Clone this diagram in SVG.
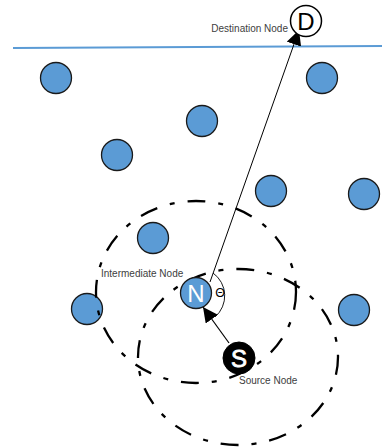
<svg xmlns="http://www.w3.org/2000/svg" width="382" height="447" viewBox="0 0 382 447">
<style>
.node{fill:#5B9BD5;stroke:#1a1a1a;stroke-width:1.3}
.range{fill:none;stroke:#000;stroke-width:2.3;stroke-dasharray:18 13 5 13}
.lbl{font-family:"Liberation Sans",Arial,sans-serif;font-size:10px;fill:#404040}
.big{font-family:"Liberation Sans",Arial,sans-serif;font-size:24px;text-anchor:middle}
</style>
<defs>
<marker id="ah" viewBox="0 0 10 10" refX="10" refY="5" markerWidth="15" markerHeight="15" markerUnits="userSpaceOnUse" orient="auto">
<path d="M0,0 L10,5 L0,10 z" fill="#000"/>
</marker>
</defs>
<rect width="382" height="447" fill="#fff"/>
<line x1="13" y1="48" x2="382" y2="46" stroke="#5B9BD5" stroke-width="2.2"/>
<g id="nodes">
<circle class="node" cx="56" cy="78" r="15.5"/>
<circle class="node" cx="322" cy="78" r="15.5"/>
<circle class="node" cx="202" cy="121" r="15.5"/>
<circle class="node" cx="117" cy="155" r="15.5"/>
<circle class="node" cx="271" cy="191" r="15.5"/>
<circle class="node" cx="364" cy="194" r="15.5"/>
<circle class="node" cx="153" cy="238" r="15.5"/>
<circle class="node" cx="87" cy="309" r="15.5"/>
<circle class="node" cx="354" cy="310" r="15.5"/>
</g>
<g id="ranges">
<ellipse class="range" cx="196" cy="292" rx="100" ry="91"/>
<ellipse class="range" cx="238" cy="357" rx="100" ry="88"/>
</g>
<g id="connectors">
<line x1="210" y1="282" x2="299" y2="30" stroke="#000" stroke-width="1" marker-end="url(#ah)"/>
<line x1="229" y1="343" x2="203" y2="307" stroke="#000" stroke-width="1.2" marker-end="url(#ah)"/>
<path d="M213,273 A28,28 0 0 1 215,317" fill="none" stroke="#000" stroke-width="0.9"/>
</g>
<g id="node-D">
<circle cx="306" cy="21" r="15.5" fill="#fff" stroke="#000" stroke-width="1.5"/>
<text class="big" x="306" y="29.5" fill="#000">D</text>
<text class="lbl" x="288" y="32" text-anchor="end">Destination Node</text>
</g>
<g id="node-N">
<circle class="node" cx="196" cy="293" r="15.5"/>
<text class="big" x="196" y="301.5" fill="#fff">N</text>
<text class="lbl" x="101" y="277">Intermediate Node</text>
<text x="220" y="297" font-family="Liberation Sans,Arial,sans-serif" font-size="12.5" text-anchor="middle" fill="#000">Θ</text>
</g>
<g id="node-S">
<circle cx="239" cy="358" r="16" fill="#000" stroke="#000" stroke-width="1"/>
<text class="big" x="239" y="366.5" fill="#fff" stroke="#fff" stroke-width="0.8">S</text>
<text class="lbl" x="239" y="384">Source Node</text>
</g>
</svg>
